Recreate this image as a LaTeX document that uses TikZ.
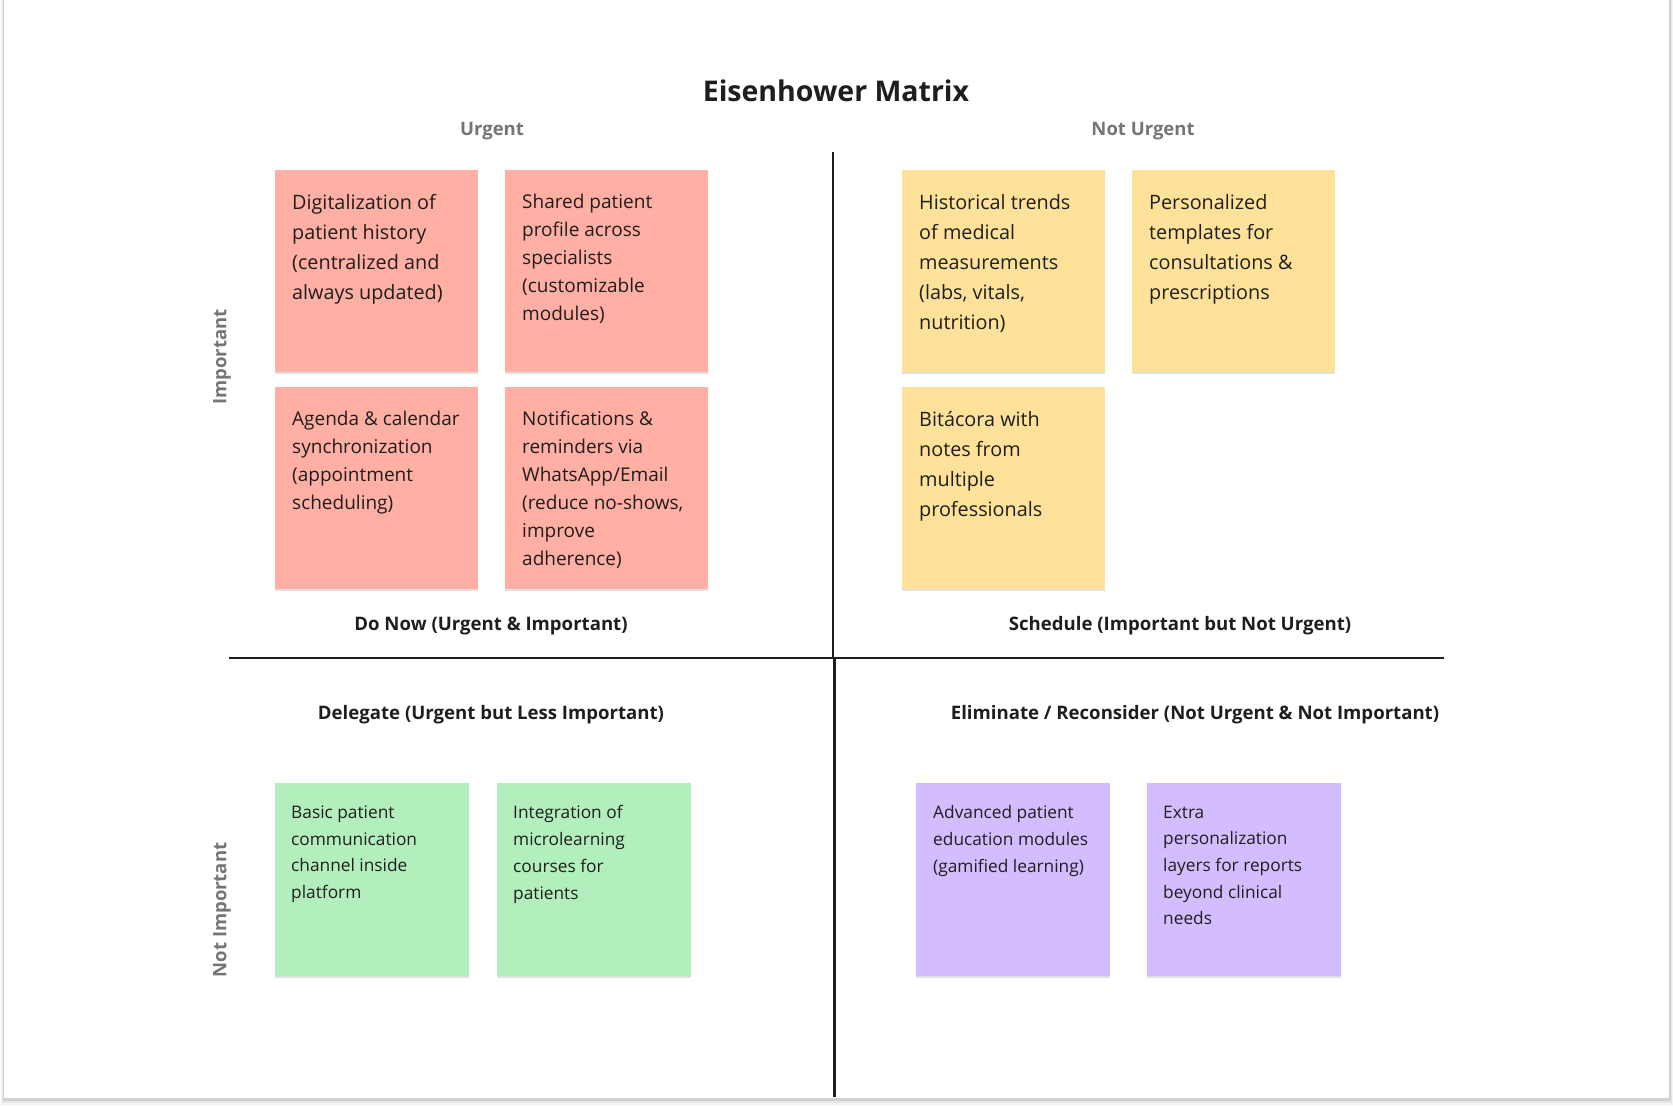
\documentclass[tikz,border=0pt]{standalone}
\usepackage{fontspec}
\setmainfont{Open Sans}
\usetikzlibrary{shadows,calc}
\definecolor{ink}{HTML}{1E1E1E}
\definecolor{lbl}{HTML}{757575}
\definecolor{sred}{HTML}{FFAFA3}
\definecolor{syel}{HTML}{FFE299}
\definecolor{sgrn}{HTML}{B3EFBD}
\definecolor{spur}{HTML}{D3BDFF}
\tikzset{
  bigsticky/.style={rectangle, anchor=north west, inner sep=0pt, minimum width=203pt, minimum height=202pt,
    drop shadow={shadow xshift=0pt, shadow yshift=-1.5pt, opacity=0.12, fill=black}},
  smallsticky/.style={rectangle, anchor=north west, inner sep=0pt, minimum width=194pt, minimum height=193pt,
    drop shadow={shadow xshift=0pt, shadow yshift=-1.5pt, opacity=0.12, fill=black}},
  stext/.style={anchor=north west, inner sep=0pt, align=left, text=ink},
  redtext/.style={stext, font=\fontsize{19}{28}\selectfont},
  redbig/.style={stext, font=\fontsize{19.8}{30}\selectfont},
  yeltext/.style={stext, font=\fontsize{19.8}{30}\selectfont},
  smalltext/.style={stext, font=\fontsize{17.3}{26.7}\selectfont},
  head/.style={inner sep=0pt, text=ink, font=\bfseries\fontsize{18.6}{22}\selectfont},
  axislbl/.style={inner sep=0pt, text=lbl, font=\bfseries\fontsize{18.5}{22}\selectfont},
  divider/.style={draw=ink, line width=2.3pt}
}
\begin{document}
\begin{tikzpicture}[x=1pt,y=-1pt]
\useasboundingbox (0,0) rectangle (1673,1106);
% board with shadow
\fill[black!4] (1,-1) rectangle (1673,1106);
\fill[black!9] (2,0) rectangle (1672,1103);
\fill[black!18] (3,0) rectangle (1670.5,1101);
\fill[white] (3.5,0) rectangle (1669,1098);

% title and column labels
\node[inner sep=0pt, text=ink, font=\bfseries\fontsize{28.5}{34}\selectfont] (title) at (836,91) {Eisenhower Matrix};
\node[axislbl] (urg) at (492,131) {Urgent};
\node[axislbl] (nurg) at (1143,131) {Not Urgent};
\node[axislbl, rotate=90] (imp) at (222,357) {Important};
\node[axislbl, rotate=90] (nimp) at (222,910) {Not Important};

% dividers
\coordinate (vtop) at (833.3,152);
\coordinate (vmid) at (833.3,658.3);
\coordinate (vmid2) at (834.5,658.3);
\coordinate (vbot) at (834.5,1097);
\coordinate (hleft) at (229,658.3);
\coordinate (hright) at (1444,658.3);
\draw[divider] (vtop) -- (vmid);
\draw[divider] (vmid2) -- (vbot);
\draw[divider] (hleft) -- (hright);

% quadrant headings
\node[head] (donow) at (491,626) {Do Now (Urgent \& Important)};
\node[head] (sched) at (1180,626) {Schedule (Important but Not Urgent)};
\node[head] (deleg) at (491,714.5) {Delegate (Urgent but Less Important)};
\node[head] (elim) at (1195,714.5) {Eliminate / Reconsider (Not Urgent \& Not Important)};

% Do Now stickies
\node[bigsticky, fill=sred] (r1) at (275,170) {};
\node[bigsticky, fill=sred] (r2) at (505,170) {};
\node[bigsticky, fill=sred] (r3) at (275,387) {};
\node[bigsticky, fill=sred] (r4) at (505,387) {};
\node[redbig] (r1t) at ($(r1.north west)+(17,24)$) {Digitalization of\\patient history\\(centralized and\\always updated)};
\node[redtext] (r2t) at ($(r2.north west)+(17,23.5)$) {Shared patient\\profile across\\specialists\\(customizable\\modules)};
\node[redtext] (r3t) at ($(r3.north west)+(17,23.5)$) {Agenda \& calendar\\synchronization\\(appointment\\scheduling)};
\node[redtext] (r4t) at ($(r4.north west)+(17,23.5)$) {Notifications \&\\reminders via\\WhatsApp/Email\\(reduce no-shows,\\improve\\adherence)};

% Schedule stickies
\node[bigsticky, fill=syel] (y1) at (902,170) {};
\node[bigsticky, fill=syel] (y2) at (1132,170) {};
\node[bigsticky, fill=syel] (y3) at (902,387) {};
\node[yeltext] (y1t) at ($(y1.north west)+(17,24)$) {Historical trends\\of medical\\measurements\\(labs, vitals,\\nutrition)};
\node[yeltext] (y2t) at ($(y2.north west)+(17,24)$) {Personalized\\templates for\\consultations \&\\prescriptions};
\node[yeltext] (y3t) at ($(y3.north west)+(17,24)$) {Bitácora with\\notes from\\multiple\\professionals};

% Delegate stickies
\node[smallsticky, fill=sgrn] (g1) at (275,783) {};
\node[smallsticky, fill=sgrn] (g2) at (497,783) {};
\node[smalltext] (g1t) at ($(g1.north west)+(16,22.5)$) {Basic patient\\communication\\channel inside\\platform};
\node[smalltext] (g2t) at ($(g2.north west)+(16,22.5)$) {Integration of\\microlearning\\courses for\\patients};

% Eliminate stickies
\node[smallsticky, fill=spur] (p1) at (916,783) {};
\node[smallsticky, fill=spur] (p2) at (1147,783) {};
\node[smalltext] (p1t) at ($(p1.north west)+(17,22.5)$) {Advanced patient\\education modules\\(gamified learning)};
\node[smalltext] (p2t) at ($(p2.north west)+(16,22.5)$) {Extra\\personalization\\layers for reports\\beyond clinical\\needs};
\end{tikzpicture}
\end{document}
